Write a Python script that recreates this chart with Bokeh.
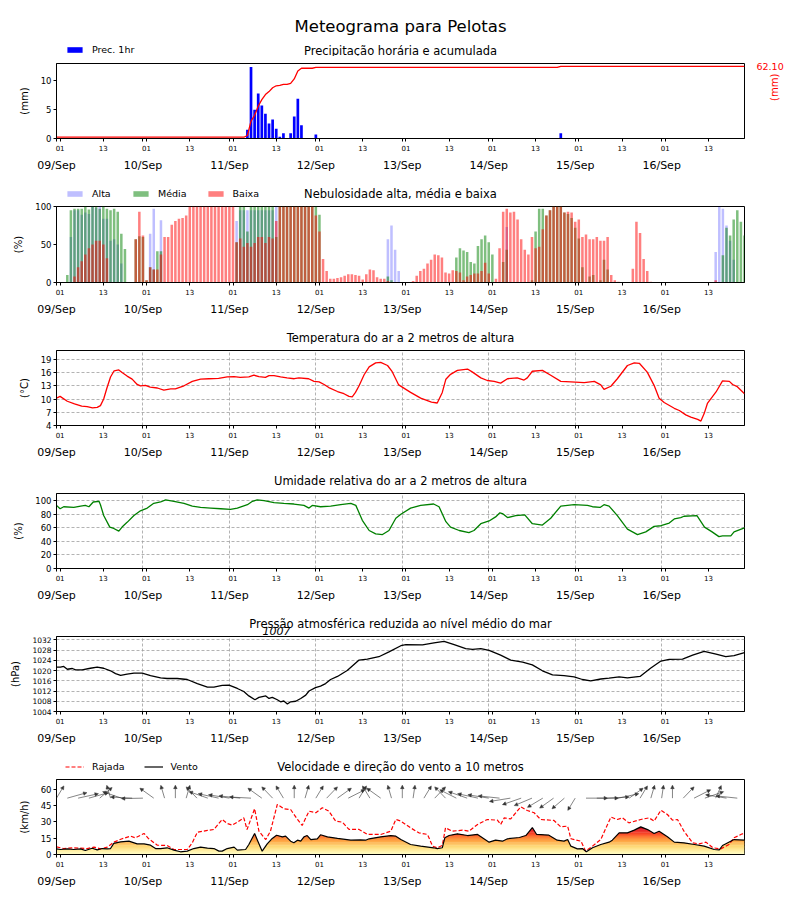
import numpy as np
from bokeh.plotting import figure
from bokeh.layouts import column
from bokeh.models import (Range1d, LinearAxis, FixedTicker, Legend, LegendItem, Label,
                          Arrow, NormalHead, ColumnDataSource, Grid, NumeralTickFormatter)
from bokeh.embed import file_html
from bokeh.resources import INLINE

FONT = "DejaVu Sans"

# ---------------- data ----------------
DATE_LABELS = ["09/Sep", "10/Sep", "11/Sep", "12/Sep", "13/Sep", "14/Sep", "15/Sep", "16/Sep"]
HOUR_LABELS = ["01", "13"]
X_MAX = 191  # hours since 09/Sep 00h

# precipitation (hourly bars, mm)
PREC_HOURS = [53, 54, 55, 56, 57, 58, 59, 60, 61, 62, 63, 65, 66, 67, 68, 72, 140]
PREC_MM = [1.5, 12.4, 5.0, 7.8, 5.7, 4.3, 2.6, 3.3, 1.7, 0.3, 0.9, 0.9, 3.8, 6.9, 2.3, 0.7, 0.9]
ACC_TOTAL = 62.10

# cloud cover (%), hourly, 8 days x 24 h
ALTA = [0, 0, 0, 0, 60, 95, 95, 89, 92, 90, 100, 98, 100, 84, 84, 55, 57, 50, 25, 0, 0, 0, 0, 0,
        0, 0, 64, 97, 0, 82, 0, 0, 0, 0, 0, 0, 0, 0, 0, 0, 0, 0, 0, 0, 0, 0, 0, 0,
        0, 0, 81, 95, 95, 95, 95, 95, 95, 95, 95, 95, 95, 100, 0, 0, 0, 0, 0, 0, 0, 0, 0, 0,
        0, 0, 0, 0, 0, 0, 0, 0, 0, 0, 0, 0, 0, 0, 0, 0, 0, 0, 0, 0, 57, 75, 43, 15,
        0, 0, 0, 0, 0, 0, 0, 0, 0, 0, 0, 0, 0, 0, 0, 0, 0, 0, 0, 0, 0, 0, 0, 0,
        0, 0, 0, 0, 0, 73, 0, 0, 0, 0, 0, 0, 0, 0, 0, 0, 0, 0, 0, 0, 0, 0, 0, 0,
        0, 0, 0, 0, 0, 0, 0, 0, 0, 0, 0, 0, 0, 0, 0, 0, 0, 0, 0, 0, 0, 0, 0, 0,
        0, 0, 0, 0, 0, 0, 0, 0, 0, 0, 0, 0, 0, 0, 0, 40, 100, 97, 75, 55, 30, 0, 0, 0]
MEDIA = [0, 0, 0, 10, 95, 97, 97, 97, 100, 96, 100, 100, 97, 100, 97, 95, 97, 93, 64, 44, 0, 0, 57, 61,
         60, 3, 20, 17, 41, 41, 0, 0, 0, 0, 0, 0, 0, 0, 0, 0, 0, 0, 0, 0, 0, 0, 0, 0,
         0, 0, 53, 100, 100, 67, 100, 100, 100, 100, 100, 100, 100, 60, 100, 100, 100, 100, 100, 100, 100, 100, 100, 100,
         100, 89, 0, 0, 0, 0, 0, 0, 0, 0, 0, 0, 0, 0, 0, 0, 0, 0, 0, 0, 8, 3, 0, 0,
         0, 0, 0, 0, 0, 0, 0, 0, 0, 0, 0, 0, 0, 0, 0, 33, 45, 42, 40, 27, 25, 48, 57, 62,
         53, 37, 0, 0, 27, 43, 0, 0, 0, 0, 0, 0, 3, 67, 97, 97, 88, 95, 100, 100, 100, 92, 90, 85,
         72, 58, 20, 0, 8, 10, 0, 3, 30, 17, 0, 0, 0, 0, 0, 0, 0, 0, 0, 0, 0, 0, 0, 0,
         0, 0, 0, 0, 0, 0, 0, 0, 0, 0, 0, 0, 0, 0, 0, 0, 0, 36, 72, 62, 83, 95, 80, 62]
BAIXA = [0, 0, 0, 0, 0, 8, 20, 28, 37, 45, 50, 55, 55, 50, 32, 0, 0, 0, 0, 0, 0, 0, 57, 93,
         62, 3, 20, 17, 17, 37, 60, 60, 76, 81, 84, 85, 88, 100, 100, 100, 100, 100, 100, 100, 100, 100, 100, 100,
         100, 100, 53, 58, 47, 52, 47, 52, 60, 60, 52, 60, 58, 81, 100, 100, 100, 100, 100, 100, 100, 100, 100, 100,
         88, 67, 31, 15, 5, 5, 6, 7, 9, 11, 11, 10, 9, 4, 11, 17, 16, 7, 5, 5, 2, 0, 0, 0,
         0, 0, 0, 2, 9, 15, 18, 25, 30, 37, 36, 33, 13, 12, 16, 15, 13, 3, 8, 10, 12, 12, 15, 26,
         12, 0, 5, 45, 93, 97, 92, 93, 83, 57, 43, 37, 60, 45, 47, 70, 88, 95, 100, 100, 100, 92, 93, 92,
         80, 83, 60, 63, 57, 57, 60, 55, 55, 60, 10, 3, 1, 0, 0, 0, 18, 80, 65, 31, 15, 1, 0, 0,
         0, 0, 0, 0, 0, 0, 0, 0, 0, 0, 0, 0, 0, 0, 0, 3, 0, 0, 0, 0, 0, 0, 0, 0]

# temperature (deg C)
TEMP_HOURS = [0, 1, 3, 5, 7, 8.5, 10, 11.3, 12.2, 13.1,
              14, 15, 16, 17.3, 18.2, 19.6, 21, 22.4, 23.3, 24.7,
              26, 28, 29.8, 31.7, 33, 35.4, 37.7, 40, 42.3, 45,
              47.4, 49.3, 51, 53.4, 54.8, 56.2, 58, 59, 60.4, 62.2,
              64, 66, 67.3, 70, 71.5, 72.9, 74.3, 75.6, 78, 79.8,
              81.2, 82.1, 83, 84, 85.4, 86.8, 88.6, 90, 91.9, 93.2,
              95, 98.3, 101.1, 104.1, 105.7, 107.1, 108.1, 109.4, 111.3, 114.1,
              115.5, 117.8, 119.6, 121.5, 123.3, 125.2, 127.9, 129.8, 130.7, 132.1,
              134.9, 137.2, 140, 142.8, 146.5, 149.3, 151.1, 152, 153.9, 155.7,
              158.5, 160.4, 161.8, 164, 165.9, 167.3, 168.7, 171.5, 172.9, 174.7,
              176.1, 178, 178.9, 179.8, 180.7, 183.1, 184.9, 186.8, 187.7, 189,
              191]
TEMP_C = [10.2, 10.6, 9.5, 8.9, 8.4, 8.3, 8.0, 8.1, 8.5, 10.0,
          12.5, 15.0, 16.4, 16.6, 16.0, 15.2, 14.5, 13.3, 13.0, 13.1,
          12.7, 12.5, 12.0, 12.3, 12.3, 13.0, 14.0, 14.5, 14.6, 14.7,
          15.0, 15.1, 14.9, 15.0, 15.4, 15.1, 14.9, 15.3, 15.3, 15.0,
          14.8, 14.6, 14.8, 14.6, 14.0, 13.9, 13.3, 12.6, 11.7, 11.2,
          10.6, 10.5, 11.5, 13.0, 15.5, 17.3, 18.2, 18.3, 17.6, 16.2,
          13.2, 11.5, 10.2, 9.3, 9.1, 11.5, 14.5, 15.6, 16.5, 16.8,
          16.1, 14.8, 14.2, 14.0, 13.6, 14.6, 14.8, 14.3, 14.8, 16.3,
          16.5, 15.4, 14.0, 13.9, 13.7, 14.0, 13.2, 12.2, 12.9, 14.6,
          17.6, 18.2, 18.1, 16.1, 13.1, 10.2, 9.2, 7.9, 7.4, 6.4,
          5.9, 5.4, 5.0, 6.7, 9.0, 11.6, 14.1, 14.0, 13.3, 12.8,
          11.2]

# relative humidity (%)
RH_HOURS = [0, 1, 2, 4.8, 6.7, 8, 9, 10.2, 11.8, 12.2,
            13.1, 14.8, 15.9, 17.3, 18.2, 19.6, 21.5, 23.3, 25.2, 27,
            28.9, 30.3, 32.6, 35.4, 37.7, 40, 42.8, 45.6, 48.3, 50.2,
            53, 54.4, 55.7, 57.6, 60.4, 63.1, 65.9, 68.7, 70.1, 71,
            73.3, 76.1, 78.9, 81.7, 83.1, 84.9, 86.8, 88.6, 90.5, 92.3,
            94.2, 95.6, 98.3, 101.1, 104.7, 106.2, 108.1, 109.4, 111.8, 114.5,
            115.9, 117.8, 120.1, 121.9, 123.1, 123.8, 125.2, 127.5, 130, 132.1,
            134.9, 137.2, 140, 143.7, 147.4, 148.8, 150.9, 152, 153.4, 155.7,
            158.5, 161.3, 163.6, 165.9, 167.8, 170.1, 171.5, 173.3, 174.2, 177.8,
            179.9, 182, 183.9, 184.9, 187.2, 188.1, 191]
RH_PCT = [93, 88, 91, 90, 92, 93, 91, 98, 99, 94,
          78, 61, 59, 55, 61, 68, 78, 85, 89, 96,
          98, 101, 99, 96, 92, 90, 89, 88, 87, 89,
          94, 99, 101, 100, 97, 96, 95, 93, 89, 93,
          91, 92, 94, 96, 93, 71, 56, 51, 50, 56,
          74, 80, 89, 93, 95, 91, 69, 61, 56, 53,
          56, 66, 70, 76, 82, 81, 75, 78, 79, 66,
          64, 74, 92, 94, 93, 91, 90, 94, 92, 78,
          58, 50, 54, 62, 63, 67, 73, 75, 77, 78,
          61, 54, 47, 48, 48, 54, 60]

# sea-level pressure (hPa)
PRES_HOURS = [0, 1.1, 2, 3, 4.4, 5.3, 7.1, 9.4, 11.3, 13.1,
              15, 16.4, 17.8, 19.6, 21.5, 23.8, 26.1, 28.9, 30.7, 33.5,
              36.3, 39.1, 41.9, 43.7, 46, 47.9, 50.2, 52, 53.4, 55.1,
              56.2, 58.1, 59, 59.9, 61.3, 62.2, 63.1, 64.1, 65, 66.4,
              67.8, 69.2, 70.1, 71.9, 73.3, 74.7, 76.1, 78, 80.7, 84,
              86.3, 89.5, 92.3, 95.6, 97, 101.6, 104.8, 107.6, 110.4, 113.6,
              115.5, 117.8, 120.1, 123.3, 126.1, 129.4, 132.1, 134.9, 137.7, 140.9,
              143.7, 146, 148.3, 151.1, 153.4, 156.2, 158.5, 162, 164.9, 167.8,
              170.1, 173.8, 176.6, 179.8, 183.1, 185.8, 188.1, 191]
PRES_HPA = [1021.3, 1021.3, 1021.6, 1020.5, 1020.8, 1020.3, 1020.3, 1020.9, 1021.3, 1020.9,
            1019.9, 1018.8, 1018.1, 1018.6, 1019.0, 1019.0, 1018.0, 1017.1, 1016.9, 1016.9,
            1016.5, 1014.9, 1013.5, 1013.5, 1014.2, 1014.3, 1013.0, 1011.8, 1010.1, 1008.6,
            1009.5, 1010.1, 1009.1, 1009.5, 1008.6, 1007.8, 1008.1, 1006.9, 1007.8, 1008.0,
            1009.1, 1010.4, 1012.0, 1013.3, 1013.9, 1014.9, 1016.5, 1017.7, 1020.0, 1024.1,
            1024.5, 1025.4, 1027.3, 1029.7, 1030.1, 1030.0, 1030.8, 1031.4, 1030.1, 1028.6,
            1028.3, 1028.6, 1027.9, 1026.0, 1024.1, 1023.3, 1022.2, 1019.9, 1018.3, 1018.0,
            1017.5, 1016.5, 1016.0, 1016.7, 1017.0, 1017.5, 1017.1, 1017.7, 1020.9, 1023.7,
            1024.4, 1024.5, 1026.0, 1027.5, 1026.4, 1025.4, 1025.8, 1027.0]

# wind at 10 m (km/h)
WIND_HOURS = [0, 1.1, 3, 4.8, 6.7, 8, 9.9, 11.3, 12.7, 14.1,
              15, 15.9, 17.8, 20.1, 22.4, 24.3, 26.1, 27.5, 28.9, 30.7,
              32.6, 34.4, 36.3, 38.1, 40, 41.9, 43.7, 45.1, 46, 47.4,
              49.3, 50.2, 52.5, 53.4, 55, 55.9, 57.1, 58.5, 59.9, 61.1,
              62.7, 63.6, 65, 65.9, 66.9, 67.8, 68.7, 69.6, 70.6, 72.4,
              73.3, 75.2, 78, 81.7, 84.4, 85.8, 86.8, 90, 92.8, 94.2,
              95.6, 98.3, 101.1, 104.7, 105.7, 107.1, 107.8, 109, 111.3, 114.1,
              116.9, 120.1, 121.9, 123.8, 125.2, 128.5, 130.3, 132.1, 133.3, 136.7,
              139, 140.9, 141.9, 142.8, 144.6, 146, 147.1, 148.8, 151.1, 153.4,
              154.3, 156.2, 158.5, 160.4, 162.2, 164.1, 165.9, 167.3, 169.6, 171.5,
              174.2, 177.1, 179.8, 182.6, 184, 184.9, 188.1, 191]
WIND_KMH = [5.2, 4.6, 5.2, 4.6, 5.2, 3.7, 5.8, 4.3, 5.5, 5.2,
            5.5, 10.2, 11.7, 12.3, 9.8, 9.8, 8.6, 5.5, 5.5, 6.2,
            4.0, 2.5, 3.1, 5.5, 6.8, 5.8, 5.5, 3.1, 3.1, 5.5,
            6.8, 4.0, 4.6, 9.2, 19.4, 12.3, 3.1, 9.8, 14.8, 17.8,
            16.3, 16.9, 12.3, 10.8, 13.2, 12.3, 16.3, 17.5, 13.8, 14.5,
            18.2, 16.3, 14.8, 13.2, 13.5, 13.2, 14.5, 16.3, 17.5, 16.9,
            13.8, 9.2, 7.7, 6.2, 5.5, 6.2, 15.4, 17.5, 19.1, 17.5,
            18.5, 11.4, 13.2, 12.3, 14.5, 15.7, 17.5, 24.9, 18.5, 17.8,
            13.2, 12.3, 13.8, 7.7, 5.2, 5.5, 2.5, 6.2, 9.2, 11.4,
            13.2, 20.0, 20.0, 22.5, 25.5, 23.0, 19.4, 21.5, 16.3, 11.4,
            10.8, 9.2, 7.7, 4.6, 4.3, 8.3, 13.8, 13.2]
GUST_HOURS = [0, 2, 4.8, 8.5, 10.4, 12.2, 14.1, 15.9, 18.2, 20.6,
              21.9, 24.3, 25.6, 28, 30.7, 32.6, 36.3, 37.7, 39.1, 41.9,
              43.7, 46, 47.4, 48.8, 50.2, 52, 52.9, 55, 56.2, 58.1,
              59.4, 61.3, 63.1, 65, 66.9, 68.2, 70.1, 72, 73.8, 75.6,
              77.5, 79.4, 81.2, 84, 86.3, 90, 92.8, 94.2, 95.6, 98.3,
              100.6, 103, 104.4, 105.7, 107.1, 108, 109.9, 112.7, 114.5, 116.9,
              119.6, 122.4, 123.3, 124.3, 126.1, 128.9, 130.7, 132.6, 134.4, 138.1,
              140, 141.9, 142.8, 145.6, 146.9, 148.8, 151.1, 153.9, 155.7, 157.1,
              158.9, 162.2, 164.5, 165.9, 167.8, 169.6, 171, 172.4, 174.2, 176.6,
              178.4, 180.3, 182.2, 184.4, 186.7, 188.1, 190.4, 191]
GUST_KMH = [7.1, 5.5, 6.2, 5.5, 6.8, 5.2, 6.8, 11.4, 14.5, 16.9,
            15.4, 19.4, 14.5, 8.6, 8.3, 4.6, 4.6, 10.8, 20.6, 22.2,
            23.1, 32.3, 28.6, 27.1, 29.8, 33.8, 23.1, 42.2, 21.5, 13.8,
            21.5, 46.2, 42.2, 41.5, 32.3, 26.8, 40.0, 38.5, 43.1, 40.0,
            30.8, 29.8, 23.1, 23.1, 18.5, 18.5, 21.5, 32.3, 30.8, 24.6,
            20.0, 18.5, 7.7, 6.2, 8.3, 24.6, 21.5, 22.5, 21.5, 27.7,
            32.3, 31.7, 27.7, 33.8, 32.9, 44.0, 40.6, 38.5, 32.3, 31.4,
            25.5, 26.2, 14.5, 12.3, 3.1, 7.7, 13.8, 34.5, 32.3, 33.8,
            29.2, 32.3, 33.8, 30.8, 40.9, 36.9, 31.7, 32.3, 21.5, 10.8,
            9.8, 11.4, 6.2, 5.2, 9.2, 15.4, 19.1, 19.1]
# direction the arrow points to (deg clockwise from north), every 3 h
ARROW_HOURS = list(range(0, 192, 3))
ARROW_TO_DEG = [20, 65, 70, 65, 35, 350, 300, 275, 268, 320, 350, 0, 10, 330, 300, 290,
                285, 280, 275, 320, 330, 340, 0, 10, 20, 30, 40, 50, 20, 340, 320, 350,
                0, 5, 20, 30, 330, 310, 300, 290, 285, 280, 255, 240, 235, 225, 220, 215,
                200, 90, 90, 85, 70, 40, 20, 10, 5, 0, 30, 50, 60, 15, 285, 280]

# ---------------- helpers ----------------
HOUR_TICKS = [24 * d + int(h) for d in range(len(DATE_LABELS)) for h in HOUR_LABELS]
DAY_TICKS = [24 * d for d in range(len(DATE_LABELS))]
X_OVERRIDES = {t: HOUR_LABELS[i % 2] for i, t in enumerate(HOUR_TICKS)}
X_OVERRIDES.update({t: "" for t in DAY_TICKS})
DAY_OVERRIDES = {t: lbl for t, lbl in zip(DAY_TICKS, DATE_LABELS)}
X_RANGE = Range1d(0, X_MAX)
HOURS = np.arange(X_MAX + 1)
FRAME_W = 688
LEFT_B = 56
RIGHT_B = 40


def style_axis(ax, size):
    ax.major_label_text_font = FONT
    ax.major_label_text_font_size = size
    ax.major_label_text_color = "black"
    ax.axis_label_text_font = FONT
    ax.axis_label_text_font_size = "10px"
    ax.axis_label_text_font_style = "normal"
    ax.axis_label_text_color = "black"
    ax.major_tick_in = 0
    ax.minor_tick_line_color = None
    ax.axis_line_color = "black"
    ax.major_tick_line_color = "black"


def bare_figure(fw, fh, xr, yr, left, right, top, bottom):
    f = figure(frame_width=fw, frame_height=fh, x_range=xr, y_range=yr,
               min_border_left=left, min_border_right=right, min_border_top=top,
               min_border_bottom=bottom, x_axis_type=None, y_axis_type=None,
               toolbar_location=None, output_backend="svg")
    f.outline_line_color = None
    f.background_fill_color = "white"
    f.border_fill_color = "white"
    return f


def make_header(height):
    return bare_figure(FRAME_W, height, X_RANGE, Range1d(0, height), LEFT_B, RIGHT_B, 0, 0)


def header_text(f, text, y, size="11.5px", **kw):
    f.add_layout(Label(x=X_MAX / 2, y=y, text=text, text_align="center", text_baseline="middle",
                       text_font=FONT, text_font_size=size, text_color="black", **kw))


def header_legend(f, items, y):
    leg = Legend(items=items, location=(9, y), orientation="horizontal")
    leg.label_text_font = FONT
    leg.label_text_font_size = "9.5px"
    leg.label_text_color = "black"
    leg.glyph_width = 19
    leg.glyph_height = 7
    leg.label_height = 12
    leg.label_standoff = 8
    leg.spacing = 19
    leg.padding = 0
    leg.margin = 0
    leg.border_line_color = None
    leg.background_fill_alpha = 0
    f.add_layout(leg)


OFF = [-100.0, -99.0]  # off-frame positions for legend proxy glyphs


def make_panel(ylabel, y_range, yticks, top=6, bottom=35, frame_h=75,
               ytick_size="8.5px", grid=False, right=RIGHT_B):
    p = figure(frame_width=FRAME_W, frame_height=frame_h, x_range=X_RANGE, y_range=y_range,
               min_border_left=LEFT_B, min_border_right=right, min_border_top=top,
               min_border_bottom=bottom, x_axis_type=None, y_axis_type=None,
               toolbar_location=None, output_backend="svg")
    p.outline_line_color = "black"
    p.outline_line_alpha = 1
    p.outline_line_width = 1
    p.background_fill_color = "white"
    p.border_fill_color = "white"
    yax = LinearAxis(ticker=FixedTicker(ticks=yticks), axis_label=ylabel)
    style_axis(yax, ytick_size)
    yax.major_tick_out = 3
    yax.major_label_standoff = 2
    yax.axis_label_standoff = 8
    p.add_layout(yax, "left")
    hax = LinearAxis(ticker=FixedTicker(ticks=sorted(HOUR_TICKS + DAY_TICKS)),
                     major_label_overrides=X_OVERRIDES)
    style_axis(hax, "7px")
    hax.major_tick_out = 3
    hax.major_label_standoff = 3
    p.add_layout(hax, "below")
    dax = LinearAxis(ticker=FixedTicker(ticks=DAY_TICKS), major_label_overrides=DAY_OVERRIDES)
    style_axis(dax, "11px")
    dax.axis_line_color = None
    dax.major_tick_line_color = None
    dax.major_tick_out = 0
    dax.major_label_standoff = 5
    p.add_layout(dax, "below")
    if grid:
        p.add_layout(Grid(dimension=0, ticker=FixedTicker(ticks=DAY_TICKS),
                          grid_line_color="#a0a0a0", grid_line_dash="3 2", grid_line_width=0.8))
        p.add_layout(Grid(dimension=1, ticker=FixedTicker(ticks=yticks),
                          grid_line_color="#a0a0a0", grid_line_dash="3 2", grid_line_width=0.8))
    return p


# ---------------- panel 1: precipitation ----------------
h1 = make_header(56)
header_text(h1, "Meteograma para Pelotas", 30, size="16.5px")
header_text(h1, "Precipitação horária e acumulada", 6)
leg_bar = h1.vbar(x=OFF[:1], top=OFF[:1], width=0.75, fill_color="#0000ff", line_color=None)
header_legend(h1, [LegendItem(label="Prec. 1hr", renderers=[leg_bar])], 1)

p1 = make_panel("(mm)", Range1d(0, 13.0), [0, 5, 10], top=7)
p1.vbar(x=PREC_HOURS, top=PREC_MM, width=0.75, fill_color="#0000ff", line_color=None)
prec_hourly = np.zeros(X_MAX + 1)
prec_hourly[PREC_HOURS] = PREC_MM
acc = ACC_TOTAL - sum(PREC_MM) + np.cumsum(prec_hourly)
ACC_TOP = ACC_TOTAL * 1.04
p1.extra_y_ranges = {"acc": Range1d(0, ACC_TOP)}
p1.line(HOURS, acc, y_range_name="acc", line_color="red", line_width=1.3)
# right scale: total accumulated value
rax = LinearAxis(y_range_name="acc", ticker=FixedTicker(ticks=[ACC_TOTAL]),
                 formatter=NumeralTickFormatter(format="0.00"))
style_axis(rax, "9.5px")
rax.axis_line_color = None
rax.major_tick_line_color = None
rax.major_tick_out = 0
rax.major_label_standoff = 12
rax.major_label_text_color = "red"
p1.add_layout(rax, "right")
# right scale label
lax = LinearAxis(y_range_name="acc", ticker=FixedTicker(ticks=[]), axis_label="(mm)")
style_axis(lax, "9.5px")
lax.axis_line_color = None
lax.major_tick_line_color = None
lax.major_tick_out = 0
lax.axis_label_text_color = "red"
lax.axis_label_standoff = -12
lax.axis_label_orientation = -1.5 * np.pi
p1.add_layout(lax, "right")

# ---------------- panel 2: clouds ----------------
h2 = make_header(26)
header_text(h2, "Nebulosidade alta, média e baixa", 7)
cloud_styles = [("Alta", "#0000ff", 0.25), ("Média", "#008000", 0.5), ("Baixa", "#ff0000", 0.5)]
leg_items = []
for name, col, alpha in cloud_styles:
    r = h2.vbar(x=OFF[:1], top=OFF[:1], width=0.7, fill_color=col, fill_alpha=alpha, line_color=None)
    leg_items.append(LegendItem(label=name, renderers=[r]))
header_legend(h2, leg_items, 1)

p2 = make_panel("(%)", Range1d(0, 100), [0, 50, 100], frame_h=76)
for (name, col, alpha), vals in zip(cloud_styles, [ALTA, MEDIA, BAIXA]):
    p2.vbar(x=HOURS, top=vals, width=0.7, fill_color=col, fill_alpha=alpha, line_color=None)

# ---------------- panel 3: temperature ----------------
h3 = make_header(26)
header_text(h3, "Temperatura do ar a 2 metros de altura", 7)
p3 = make_panel("(°C)", Range1d(4, 21), [4, 7, 10, 13, 16, 19], grid=True)
p3.line(TEMP_HOURS, TEMP_C, line_color="red", line_width=1.3)

# ---------------- panel 4: humidity ----------------
h4 = make_header(26)
header_text(h4, "Umidade relativa do ar a 2 metros de altura", 7)
p4 = make_panel("(%)", Range1d(0, 110.5), [0, 20, 40, 60, 80, 100], grid=True)
p4.line(RH_HOURS, RH_PCT, line_color="green", line_width=1.3)

# ---------------- panel 5: pressure ----------------
h5 = make_header(32)
header_text(h5, "Pressão atmosférica reduzida ao nível médio do mar", 13)
imin = int(np.argmin(PRES_HPA))
h5.add_layout(Label(x=PRES_HOURS[imin], y=2, text="%d" % round(PRES_HPA[imin]), text_align="right",
                    x_offset=3, text_baseline="bottom", text_font=FONT, text_font_size="11px",
                    text_font_style="italic", text_color="black"))
p5 = make_panel("(hPa)", Range1d(1004, 1033.3), list(range(1004, 1033, 4)), top=0, bottom=36,
                ytick_size="7.5px", grid=True)
p5.line(PRES_HOURS, PRES_HPA, line_color="black", line_width=1.3)

# ---------------- panel 6: wind ----------------
h6 = make_header(26)
header_text(h6, "Velocidade e direção do vento a 10 metros", 7)
lg_gust = h6.line(x=OFF, y=OFF, line_color="red", line_width=1.2, line_dash="4 2")
lg_wind = h6.line(x=OFF, y=OFF, line_color="black", line_width=1.2)
header_legend(h6, [LegendItem(label="Rajada", renderers=[lg_gust]),
                   LegendItem(label="Vento", renderers=[lg_wind])], 1)

p6 = make_panel("(km/h)", Range1d(0, 69.2), [0, 15, 30, 45, 60])
YLORRD = ["#ffffcc", "#ffeda0", "#fed976", "#feb24c", "#fd8d3c", "#fc4e2a", "#e31a1c", "#bd0026", "#800026"]


def cmap(v, vmax=30.0):
    t = min(max(v / vmax, 0.0), 1.0) * (len(YLORRD) - 1)
    i = min(int(t), len(YLORRD) - 2)
    f = t - i
    c1 = [int(YLORRD[i][k:k + 2], 16) for k in (1, 3, 5)]
    c2 = [int(YLORRD[i + 1][k:k + 2], 16) for k in (1, 3, 5)]
    return "#%02x%02x%02x" % tuple(int(round(a + (b - a) * f)) for a, b in zip(c1, c2))


xf = np.linspace(0, X_MAX, 1529)
vf = np.interp(xf, WIND_HOURS, WIND_KMH)
step = 1.0
for k in range(int(max(WIND_KMH) / step) + 1):
    lo, hi = k * step, (k + 1) * step
    p6.varea(x=xf, y1=np.minimum(vf, lo), y2=np.minimum(vf, hi + 0.4), fill_color=cmap(lo + step / 2))
p6.line(GUST_HOURS, GUST_KMH, line_color="red", line_width=1.2, line_dash="4 2")
p6.line(WIND_HOURS, WIND_KMH, line_color="black", line_width=1.2)
ang = np.radians(ARROW_TO_DEG)
ax0 = np.array(ARROW_HOURS, dtype=float)
ay0 = np.full(len(ARROW_HOURS), 52.0)
arrow_src = ColumnDataSource(dict(x0=ax0, y0=ay0, x1=ax0 + 6.0 * np.sin(ang), y1=ay0 + 12.0 * np.cos(ang)))
p6.add_layout(Arrow(end=NormalHead(size=3.5, line_color="#333333", fill_color="#333333", line_width=0.5),
                    x_start="x0", y_start="y0", x_end="x1", y_end="y1", source=arrow_src,
                    line_color="#333333", line_width=0.6))

layout = column(h1, p1, h2, p2, h3, p3, h4, p4, h5, p5, h6, p6, spacing=0)
open("out.html", "w").write(file_html(layout, INLINE))
